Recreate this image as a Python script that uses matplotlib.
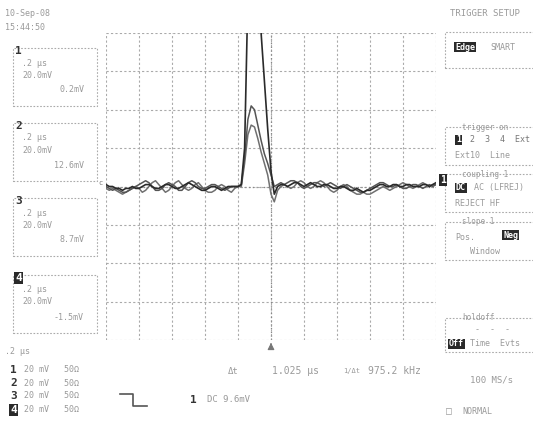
import numpy as np
import matplotlib
matplotlib.use("Agg")
import matplotlib.pyplot as plt
from matplotlib.patches import Rectangle
from matplotlib.lines import Line2D

# ---- data (x in divisions, 0.2 us/div; y in mV, 20 mV/div) ----
t_div = np.arange(101) / 10.0

trace_a = [
    1, 0, 0, -1, -1, -2, -1, -1, 0, -1,
    -1, 0, 1, 1, 0, -1, -1, 0, 1, 1,
    0, -1, -1, 0, 1, 2, 1, 0, -1, -2,
    -2, -1, 0, 0, -1, -2, -1, 0, 0, 0,
    0, 1, 20, 100, 115, 110, 95, 80, 55, 30,
    8, -4, 0, 1, 1, 0, 1, 2, 2, 1,
    0, 1, 2, 1, 0, 0, 1, 1, 0, -1,
    -1, 0, 0, -1, -2, -2, -1, -2, -3, -2,
    -2, -1, 0, 1, 1, 0, 0, 1, 1, 0,
    0, 1, 1, 0, 0, 0, 1, 1, 0, 1, 2,
]
trace_b = [
    0, -1, -2, -1, -2, -3, -3, -2, -1, 0,
    1, 2, 3, 2, 0, -2, -2, -1, 1, 2,
    1, 0, -2, -2, 0, 2, 3, 2, 0, -1,
    -1, 0, 1, 1, 0, -1, -2, -1, 0, 0,
    0, 1, 15, 35, 42, 40, 32, 24, 17, 12,
    6, 0, 1, 2, 1, 2, 3, 3, 2, 0,
    -1, 0, 1, 2, 2, 1, 0, 1, 2, 1,
    0, -1, 0, 1, 0, -1, -2, -3, -3, -2,
    -1, 0, 1, 2, 2, 1, 0, 0, 1, 0,
    -1, -1, 0, 1, 1, 0, -1, 0, 1, 0, 1,
]
trace_c = [
    -1, -2, -1, -2, -3, -4, -3, -2, -1, 0,
    -1, -3, -2, 0, 2, 3, 1, -1, -3, -2,
    0, 2, 3, 1, -1, -2, -1, 1, 2, 0,
    -2, -3, -3, -2, 0, 1, 0, -2, -3, -1,
    0, 0, 12, 27, 32, 31, 25, 18, 12, 6,
    -4, -8, -2, 0, 1, 0, -1, 0, 2, 3,
    2, 0, -1, 0, 2, 3, 2, 0, -2, -3,
    -2, 0, 1, 0, -2, -3, -4, -4, -3, -4,
    -4, -3, -2, -1, 0, -1, -2, -1, 0, 1,
    2, 1, 0, -1, 0, 1, 2, 1, 0, 1, 1,
]

channel_ids = ["1", "2", "3", "4"]
box_levels = ["0.2mV", "12.6mV", "8.7mV", "-1.5mV"]
timebase = ".2 \u03bcs"
vdiv = "20.0mV"

W, H = 533, 421
fig = plt.figure(figsize=(W / 100, H / 100), dpi=100)
fig.patch.set_facecolor("white")

GREY = "#9a9a9a"
DARK = "#333333"
MONO = "DejaVu Sans Mono"

ax = fig.add_axes([106 / W, 1 - 340 / H, 330 / W, 307 / H])
ax.set_xlim(0, 10)
ax.set_ylim(-80, 80)
for x in range(11):
    ax.axvline(x, color="#aaaaaa", lw=0.8, ls=(0, (2, 2)), zorder=1)
for y in range(-80, 81, 20):
    ax.axhline(y, color="#aaaaaa", lw=0.8, ls=(0, (2, 2)), zorder=1)
ax.axvline(5, color="#888888", lw=0.9, ls=(0, (1, 2)), zorder=1)
ax.axhline(0, color="#888888", lw=0.9, ls=(0, (1, 2)), zorder=1)
ax.set_xticks([])
ax.set_yticks([])
for s in ax.spines.values():
    s.set_visible(False)

ax.plot(t_div, trace_c, color="#707070", lw=1.1, zorder=3)
ax.plot(t_div, trace_b, color="#555555", lw=1.1, zorder=3)
ax.plot(t_div, trace_a, color="#2a2a2a", lw=1.2, zorder=4)


def T(x, y, s, size=6, color=GREY, ha="left", weight="normal", inv=False, family=MONO):
    kw = {}
    if inv:
        kw["bbox"] = dict(boxstyle="square,pad=0.1", fc="#2a2a2a", ec="none")
        color = "white"
        weight = "bold"
    fig.text(x / W, 1 - y / H, s, fontsize=size, color=color, ha=ha, va="center",
             fontweight=weight, family=family, **kw)


def box(x0, y0, x1, y1):
    fig.add_artist(Rectangle((x0 / W, 1 - y1 / H), (x1 - x0) / W, (y1 - y0) / H,
                             transform=fig.transFigure, fill=False, ec="#aaaaaa",
                             lw=0.8, ls=(0, (1.5, 1.5))))


# header
T(5, 13, "10-Sep-08")
T(5, 27, "15:44:50")

# left channel boxes
box_tops = [48, 123, 198, 275]
for i, top in enumerate(box_tops):
    box(13, top, 97, top + 58)
    T(15, top + 3, channel_ids[i], size=8, color=DARK, weight="bold", inv=(i == 3))
    T(22, top + 15, timebase)
    T(22, top + 27, vdiv)
    T(84, top + 42, box_levels[i], ha="right")

# bottom-left channel list
T(5, 352, timebase)
for i, yy in enumerate([370, 383, 396, 410]):
    T(10, yy, channel_ids[i], size=8, color=DARK, weight="bold", inv=(i == 3))
    T(24, yy, "20 mV   50\u03a9")

# trigger level symbol
fig.add_artist(Line2D([120 / W, 133 / W, 133 / W, 147 / W],
                      [1 - 394 / H, 1 - 394 / H, 1 - 406 / H, 1 - 406 / H],
                      transform=fig.transFigure, color="#555555", lw=1.2))
T(190, 400, "1", size=8, color=DARK, weight="bold")
T(207, 400, "DC 9.6mV", size=6.5)

# cursor readouts
T(228, 371, "\u0394t", size=6.5)
T(272, 371, "1.025 \u03bcs", size=7)
T(343, 371, "1/\u0394t", size=5)
T(368, 371, "975.2 kHz", size=7)
T(470, 380, "100 MS/s", size=6.5)
T(446, 411, "\u25a1", size=7)
T(462, 411, "NORMAL")

# markers around the grid
T(103, 183, "c", size=5, color="#777777", ha="right")
T(440, 180, "1", size=7, color="white", weight="bold", inv=True)
ax.annotate("", xy=(5, -80), xytext=(5, -84), xycoords="data",
            arrowprops=dict(arrowstyle="-|>", color="#777777", lw=0.8),
            annotation_clip=False)

# right trigger panel
T(450, 13, "TRIGGER SETUP", size=6.5)
box(445, 32, 540, 68)
T(455, 47, "Edge", inv=True)
T(490, 47, "SMART")

box(445, 127, 540, 165)
T(462, 127, "trigger on", size=5.5)
T(456, 140, "1", inv=True)
T(470, 140, "2  3  4  Ext", color="#777777")
T(455, 155, "Ext10  Line")

box(445, 174, 540, 212)
T(462, 174, "coupling 1", size=5.5)
T(456, 188, "DC", inv=True)
T(474, 188, "AC (LFREJ)")
T(455, 203, "REJECT HF")

box(445, 222, 540, 260)
T(462, 222, "slope 1", size=5.5)
T(455, 237, "Pos.")
T(503, 235, "Neg", inv=True)
T(470, 252, "Window")

box(445, 318, 540, 352)
T(462, 318, "holdoff", size=5.5)
T(475, 330, "-  -  -")
T(449, 344, "Off", inv=True)
T(470, 344, "Time  Evts")

fig.savefig("out.png", dpi=100, facecolor="white")
